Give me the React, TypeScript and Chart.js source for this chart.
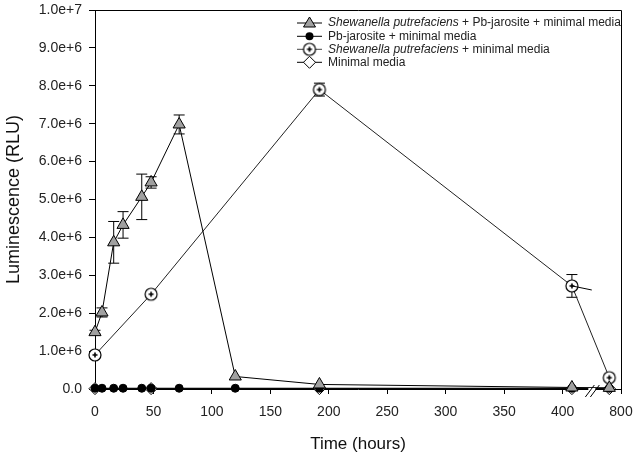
import React, { useEffect, useRef } from "react";
import { Chart, registerables } from "chart.js";

Chart.register(...registerables);

// ---- data ----
const triTimes = [0, 6, 16, 24, 40, 48, 72, 120, 192, 408, 790];
const triValues = [1.5e6, 2.02e6, 3.87e6, 4.33e6, 5.07e6, 5.45e6, 6.98e6, 0.33e6, 0.12e6, 0.04e6, 0.03e6];
const triErrors = [0.05e6, 0.12e6, 0.55e6, 0.35e6, 0.6e6, 0.15e6, 0.25e6, 0, 0, 0, 0];

const pbTimes = [0, 6, 16, 24, 40, 48, 72, 120, 192, 408, 790];
const pbValues = [0.02e6, 0.02e6, 0.02e6, 0.02e6, 0.02e6, 0.02e6, 0.02e6, 0.02e6, 0.02e6, 0.02e6, 0.02e6];

const spTimes = [0, 48, 192, 408, 790];
const spValues = [0.9e6, 2.5e6, 7.9e6, 2.72e6, 0.3e6];
const spErrors = [0, 0, 0.17e6, 0.3e6, 0];

const mmTimes = [0, 48, 192, 408, 790];
const mmValues = [0.01e6, 0.01e6, 0.01e6, 0.01e6, 0.01e6];

const xTickValues = [0, 50, 100, 150, 200, 250, 300, 350, 400, 800];
const yTickValues = [0, 1e6, 2e6, 3e6, 4e6, 5e6, 6e6, 7e6, 8e6, 9e6, 1e7];

const legendItalic = ["Shewanella putrefaciens", "", "Shewanella putrefaciens", ""];
const legendRest = [" + Pb-jarosite + minimal media", "Pb-jarosite + minimal media", " + minimal media", "Minimal media"];

const xTitle = "Time (hours)";
const yTitle = "Luminescence (RLU)";

// axis break: times beyond BREAK_AT are shifted left by BREAK_SHIFT
const BREAK_AT = 420;
const BREAK_SHIFT = 350;
const toDisp = (t: number) => (t > BREAK_AT ? t - BREAK_SHIFT : t);

const FONT = "'Liberation Sans', Arial, sans-serif";

function makeCirclePlus(r: number) {
  const size = r * 2 + 4;
  const c = document.createElement("canvas");
  c.width = size;
  c.height = size;
  const ctx = c.getContext("2d")!;
  const m = size / 2;
  ctx.beginPath();
  ctx.arc(m, m, r, 0, Math.PI * 2);
  ctx.fillStyle = "#fff";
  ctx.fill();
  ctx.lineWidth = 1.2;
  ctx.strokeStyle = "#000";
  ctx.stroke();
  ctx.beginPath();
  ctx.moveTo(m - 2.5, m);
  ctx.lineTo(m + 2.5, m);
  ctx.moveTo(m, m - 2.5);
  ctx.lineTo(m, m + 2.5);
  ctx.lineWidth = 1.6;
  ctx.stroke();
  return c;
}

function fmtY(v: number) {
  if (v === 0) return "0.0";
  const e = Math.floor(Math.log10(v) + 1e-9);
  return (v / Math.pow(10, e)).toFixed(1) + "e+" + e;
}

export default function App() {
  const ref = useRef<HTMLCanvasElement | null>(null);

  useEffect(() => {
    document.body.style.margin = "0";
    const canvas = ref.current!;
    const circlePlus = makeCirclePlus(6);

    const pts = (ts: number[], vs: number[]) => ts.map((t, i) => ({ x: toDisp(t), y: vs[i] }));

    const decor = {
      id: "decor",
      beforeDatasetsDraw(chart: any) {
        const ctx = chart.ctx;
        const xs = chart.scales.x;
        const ys = chart.scales.y;
        ctx.save();
        ctx.strokeStyle = "#000";
        ctx.lineWidth = 1;
        const drawErr = (ts: number[], vs: number[], es: number[]) => {
          ts.forEach((t, i) => {
            if (!es[i]) return;
            const x = xs.getPixelForValue(toDisp(t));
            const y1 = ys.getPixelForValue(vs[i] + es[i]);
            const y2 = ys.getPixelForValue(vs[i] - es[i]);
            ctx.beginPath();
            ctx.moveTo(x, y1);
            ctx.lineTo(x, y2);
            ctx.moveTo(x - 5.5, y1);
            ctx.lineTo(x + 5.5, y1);
            ctx.moveTo(x - 5.5, y2);
            ctx.lineTo(x + 5.5, y2);
            ctx.stroke();
          });
        };
        drawErr(triTimes, triValues, triErrors);
        drawErr(spTimes, spValues, spErrors);
        ctx.restore();
      },
      afterDraw(chart: any) {
        const ctx = chart.ctx;
        const a = chart.chartArea;
        const xs = chart.scales.x;
        const ys = chart.scales.y;
        ctx.save();
        // frame top & right
        ctx.strokeStyle = "#000";
        ctx.lineWidth = 1;
        ctx.beginPath();
        ctx.moveTo(a.left, a.top + 0.5);
        ctx.lineTo(a.right + 0.5, a.top + 0.5);
        ctx.lineTo(a.right + 0.5, a.bottom);
        ctx.stroke();

        // true-scale stub of the S. putrefaciens line leaving t=408 toward the break
        const n = spTimes.length;
        const tA = spTimes[n - 2], vA = spValues[n - 2];
        const tB = spTimes[n - 1], vB = spValues[n - 1];
        const pxPerH = (xs.getPixelForValue(100) - xs.getPixelForValue(0)) / 100;
        const xA = xs.getPixelForValue(toDisp(tA));
        const yA = ys.getPixelForValue(vA);
        const slope = (ys.getPixelForValue(vB) - yA) / ((tB - tA) * pxPerH);
        const xBreak = xs.getPixelForValue(BREAK_AT + 5);
        ctx.beginPath();
        ctx.moveTo(xA, yA);
        ctx.lineTo(xBreak, yA + slope * (xBreak - xA));
        ctx.stroke();

        // axis break marks
        const bx = xs.getPixelForValue(BREAK_AT - 0.5);
        const by = a.bottom;
        ctx.fillStyle = "#fff";
        ctx.fillRect(bx + 3, by - 1, 7, 3);
        ctx.beginPath();
        ctx.moveTo(bx, by + 8);
        ctx.lineTo(bx + 9, by - 4);
        ctx.moveTo(bx + 5, by + 8);
        ctx.lineTo(bx + 14, by - 4);
        ctx.stroke();

        // legend
        const lx0 = 297, lx1 = 322, mx = 309.5, tx = 328;
        const rows = [23, 36.3, 49.3, 62.3];
        ctx.font = `12px ${FONT}`;
        ctx.textBaseline = "middle";
        rows.forEach((y, i) => {
          ctx.strokeStyle = i === 2 ? "#444" : "#000";
          ctx.lineWidth = 1;
          ctx.beginPath();
          ctx.moveTo(lx0, y);
          ctx.lineTo(lx1, y);
          ctx.stroke();
          ctx.strokeStyle = "#000";
          if (i === 0) {
            ctx.beginPath();
            ctx.moveTo(mx, y - 6);
            ctx.lineTo(mx + 6, y + 4);
            ctx.lineTo(mx - 6, y + 4);
            ctx.closePath();
            ctx.fillStyle = "#a0a0a0";
            ctx.fill();
            ctx.stroke();
          } else if (i === 1) {
            ctx.beginPath();
            ctx.arc(mx, y, 4, 0, Math.PI * 2);
            ctx.fillStyle = "#000";
            ctx.fill();
          } else if (i === 2) {
            ctx.drawImage(circlePlus, mx - circlePlus.width / 2, y - circlePlus.height / 2);
          } else {
            ctx.beginPath();
            ctx.moveTo(mx, y - 6);
            ctx.lineTo(mx + 6, y);
            ctx.lineTo(mx, y + 6);
            ctx.lineTo(mx - 6, y);
            ctx.closePath();
            ctx.fillStyle = "#fff";
            ctx.fill();
            ctx.stroke();
          }
          ctx.fillStyle = "#222";
          let x = tx;
          if (legendItalic[i]) {
            ctx.font = `italic 12px ${FONT}`;
            ctx.fillText(legendItalic[i], x, y);
            x += ctx.measureText(legendItalic[i]).width;
          }
          ctx.font = `12px ${FONT}`;
          ctx.fillText(legendRest[i], x, y);
        });
        ctx.restore();
      },
    };

    const zeroPad = (s: any) => {
      s.paddingTop = 0;
      s.paddingBottom = 0;
      s.paddingLeft = 0;
      s.paddingRight = 0;
    };

    const chart = new Chart(canvas, {
      type: "line",
      data: {
        datasets: [
          {
            label: "tri",
            data: pts(triTimes, triValues),
            borderColor: "#000",
            borderWidth: 1,
            pointStyle: "triangle",
            pointRadius: 7,
            pointBackgroundColor: "#a0a0a0",
            pointBorderColor: "#000",
            pointBorderWidth: 1,
            clip: false,
            order: 0,
          },
          {
            label: "pb",
            data: pts(pbTimes, pbValues),
            borderColor: "#000",
            borderWidth: 1,
            pointStyle: "circle",
            pointRadius: 4,
            pointBackgroundColor: "#000",
            pointBorderColor: "#000",
            clip: false,
            order: 2,
          },
          {
            label: "sp",
            data: pts(spTimes, spValues),
            borderColor: "#222",
            borderWidth: 1,
            pointStyle: circlePlus as any,
            pointRadius: 7,
            clip: false,
            order: 1,
          },
          {
            label: "mm",
            data: pts(mmTimes, mmValues),
            borderColor: "#000",
            borderWidth: 1,
            pointStyle: "rectRot",
            pointRadius: 6,
            pointBackgroundColor: "#fff",
            pointBorderColor: "#000",
            pointBorderWidth: 1,
            clip: false,
            order: 3,
          },
        ],
      },
      options: {
        animation: false,
        responsive: false,
        devicePixelRatio: 1,
        layout: { autoPadding: false, padding: { top: 10, right: 15, left: 0, bottom: 0 } },
        plugins: { legend: { display: false }, tooltip: { enabled: false } },
        elements: { line: { tension: 0 } },
        scales: {
          x: {
            type: "linear",
            min: 0,
            max: toDisp(800),
            afterBuildTicks: (s: any) => {
              s.ticks = xTickValues.map((v) => ({ value: toDisp(v) }));
            },
            afterFit: (s: any) => {
              s.height = 69;
              zeroPad(s);
            },
            ticks: {
              color: "#222",
              font: { family: FONT, size: 14 },
              padding: 10,
              maxRotation: 0,
              autoSkip: false,
              callback: (v: any) => {
                const d = Number(v);
                const i = xTickValues.findIndex((t) => toDisp(t) === d);
                return i >= 0 ? String(xTickValues[i]) : "";
              },
            },
            grid: { drawOnChartArea: false, drawTicks: true, tickLength: 5, color: "#000" },
            border: { color: "#000", width: 1 },
            title: {
              display: true,
              text: xTitle,
              color: "#111",
              font: { family: FONT, size: 17 },
              padding: { top: 0, bottom: 3 },
            },
          },
          y: {
            type: "linear",
            min: 0,
            max: 1e7,
            afterBuildTicks: (s: any) => {
              s.ticks = yTickValues.map((v) => ({ value: v }));
            },
            afterFit: (s: any) => {
              s.width = 95;
              zeroPad(s);
            },
            ticks: {
              color: "#222",
              font: { family: FONT, size: 14 },
              padding: 7,
              autoSkip: false,
              callback: (v: any) => fmtY(Number(v)),
            },
            grid: { drawOnChartArea: false, drawTicks: true, tickLength: 6, color: "#000" },
            border: { color: "#000", width: 1 },
            title: {
              display: true,
              text: yTitle,
              color: "#111",
              font: { family: FONT, size: 18 },
              padding: { top: 3, bottom: 0 },
            },
          },
        },
      },
      plugins: [decor],
    });

    return () => chart.destroy();
  }, []);

  return (
    <div style={{ width: 636, height: 458 }}>
      <canvas ref={ref} width={636} height={458} style={{ display: "block" }} />
    </div>
  );
}
